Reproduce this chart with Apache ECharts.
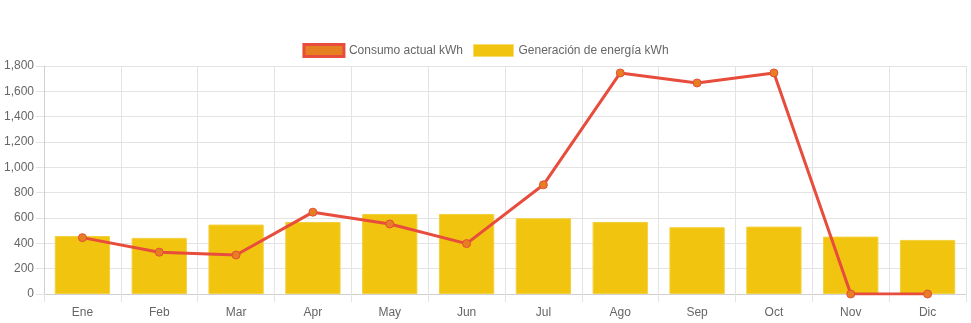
<!DOCTYPE html>
<html>
<head>
<meta charset="utf-8">
<script src="https://cdn.jsdelivr.net/npm/echarts@6/dist/echarts.min.js"></script>
<style>html,body{margin:0;padding:0;background:#fff}#c{width:971px;height:323px}</style>
</head>
<body>
<div id="c"></div>
<script>
const categories = ['Ene','Feb','Mar','Apr','May','Jun','Jul','Ago','Sep','Oct','Nov','Dic'];
const consumo = [445, 330, 308, 646, 553, 398, 862, 1745, 1666, 1745, 0, 0];
const generacion = [458, 443, 548, 569, 632, 632, 598, 569, 527, 532, 453, 427];
const yTicks = [0, 200, 400, 600, 800, 1000, 1200, 1400, 1600, 1800];
const seriesNames = ['Consumo actual kWh', 'Generación de energía kWh'];

const chart = echarts.init(document.getElementById('c'), null, {renderer: 'canvas'});
const font = 'Liberation Sans, Arial, Helvetica, sans-serif';
chart.setOption({
  animation: false,
  textStyle: {fontFamily: font},
  legend: {
    top: 38,
    left: 'center',
    itemWidth: 40,
    itemHeight: 12,
    itemGap: 10,
    textStyle: {color: '#666', fontSize: 12, fontFamily: font},
    data: [
      {name: seriesNames[0], icon: 'rect', itemStyle: {color: '#e67e22', borderColor: '#e74c3c', borderWidth: 3}},
      {name: seriesNames[1], icon: 'rect', itemStyle: {color: '#f1c40f', borderColor: '#f7dc6f', borderWidth: 1}}
    ]
  },
  grid: {left: 44, right: 5, top: 66, bottom: 29, containLabel: false},
  xAxis: {
    type: 'category',
    data: categories,
    boundaryGap: true,
    axisLine: {show: true, lineStyle: {color: '#d0d0d0', width: 1}},
    axisTick: {show: true, length: 8, lineStyle: {color: '#e3e3e3'}},
    splitLine: {show: true, lineStyle: {color: '#e3e3e3', width: 1}},
    axisLabel: {color: '#666', fontSize: 12, margin: 13, fontFamily: font}
  },
  yAxis: {
    type: 'value',
    min: yTicks[0],
    max: yTicks[yTicks.length - 1],
    interval: 200,
    axisLine: {show: true, lineStyle: {color: '#d0d0d0', width: 1}},
    axisTick: {show: true, length: 8, lineStyle: {color: '#e3e3e3'}},
    splitLine: {show: true, lineStyle: {color: '#e3e3e3', width: 1}},
    axisLabel: {
      color: '#666', fontSize: 12, margin: 10, fontFamily: font,
      formatter: v => v.toString().replace(/\B(?=(\d{3})+(?!\d))/g, ',')
    }
  },
  series: [
    {
      name: seriesNames[0],
      type: 'line',
      data: consumo,
      z: 3,
      symbol: 'circle',
      symbolSize: 8,
      lineStyle: {color: '#e74c3c', width: 3},
      itemStyle: {color: '#e67e22', borderColor: '#e74c3c', borderWidth: 1}
    },
    {
      name: seriesNames[1],
      type: 'bar',
      data: generacion,
      z: 2,
      barCategoryGap: '28%',
      itemStyle: {color: '#f1c40f', borderColor: '#f4d03f', borderWidth: 1}
    }
  ]
});
</script>
</body>
</html>
